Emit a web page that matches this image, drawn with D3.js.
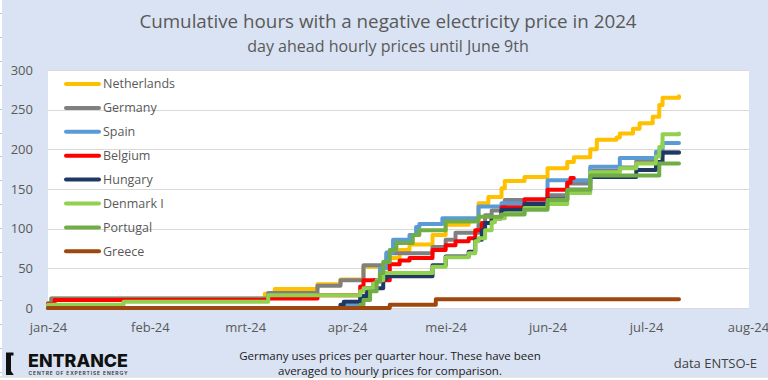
<!DOCTYPE html>
<html><head><meta charset="utf-8">
<script src="https://cdn.jsdelivr.net/npm/d3@7"></script>
<style>
body{margin:0;background:#fff;}
svg{display:block;font-family:"Open Sans",sans-serif;}
</style>
</head><body><svg id="c" width="768" height="380"></svg>
<script>
// ---------- data ----------
const seriesNames = ["Netherlands","Germany","Spain","Belgium","Hungary","Denmark I","Portugal","Greece"];
const seriesColors = ["#ffc000","#808080","#5b9bd5","#ff0000","#203864","#92d050","#70ad47","#9e480e"];

const nlDates = ["01-01","01-02","03-07","03-10","03-23","03-30","04-06","04-13","04-17","04-20","04-27","05-01","05-08","05-11","05-14","05-18","05-19","05-25","06-01","06-07","06-09","06-14","06-16","06-22","06-23","06-27","06-29","07-03","07-05","07-06","07-11"];
const nlValues = [6,12,18,24,30,36,52,63,73,80,92,105,111,132,140,151,160,165,176,184,190,200,212,215,220,226,233,241,256,265,267];

const deDates = ["01-01","01-02","03-08","03-23","03-30","04-06","04-13","04-27","05-01","05-04","05-11","05-13","05-15","05-19","06-01","06-07","06-14","06-23","06-28","07-04","07-06","07-11"];
const deValues = [6,12,19,28,35,54,69,77,86,95,105,117,123,136,142,157,173,177,185,193,196,196];

const esDates = ["01-01","03-30","04-05","04-07","04-09","04-11","04-13","04-15","04-20","04-22","04-23","04-30","05-11","05-18","06-01","06-14","06-23","07-04","07-06","07-11"];
const esValues = [0,3,10,22,35,50,70,86,92,102,106,113,128,132,161,178,189,197,208,208];

const beDates = ["01-01","01-03","03-08","03-23","04-05","04-06","04-14","04-17","04-20","04-27","05-01","05-04","05-08","05-10","05-12","05-15","05-18","05-25","06-01","06-07","06-08","06-09"];
const beValues = [5,10,12,16,27,35,55,60,63,73,79,84,88,98,107,113,127,137,149,158,164,164];

const huDates = ["01-01","03-30","03-31","04-05","04-07","04-12","04-13","04-27","05-01","05-08","05-10","05-12","05-13","05-15","05-18","05-25","06-01","06-07","06-14","06-28","07-04","07-06","07-11"];
const huValues = [0,4,8,15,25,37,40,54,65,71,86,98,107,113,124,131,137,149,165,174,184,196,196];

const dkDates = ["01-01","01-24","03-08","04-05","04-06","04-09","04-10","04-12","04-27","05-01","05-08","05-10","05-11","05-13","05-15","05-16","05-19","05-25","06-01","06-07","06-14","06-23","06-28","07-04","07-05","07-06","07-11"];
const dkValues = [4,8,16,21,25,31,35,44,52,64,69,84,88,98,108,113,119,126,131,145,171,176,182,191,203,219,220];

const ptDates = ["01-01","04-05","04-06","04-08","04-10","04-11","04-12","04-14","04-16","04-21","04-23","05-01","05-11","05-18","05-25","06-01","06-07","06-14","07-05","07-11"];
const ptValues = [0,4,10,21,33,44,58,73,82,92,98,109,115,118,124,136,149,167,182,182];

const grDates = ["01-01","04-14","04-28","07-11"];
const grValues = [0,4,11,11];

const yTicks = [0,50,100,150,200,250,300];
const xTickDates = ["2024-01-01","2024-02-01","2024-03-01","2024-04-01","2024-05-01","2024-06-01","2024-07-01","2024-08-01"];
const xTickLabels = ["jan-24","feb-24","mrt-24","apr-24","mei-24","jun-24","jul-24","aug-24"];

const titleText = "Cumulative hours with a negative electricity price in 2024";
const subtitleText = "day ahead hourly prices until June 9th";
const noteLines = ["Germany uses prices per quarter hour. These have been","averaged to hourly prices for comparison."];
const sourceText = "data ENTSO-E";

// ---------- build ----------
const parse = d3.timeParse("%Y-%m-%d");
const allDates = [nlDates,deDates,esDates,beDates,huDates,dkDates,ptDates,grDates];
const allValues = [nlValues,deValues,esValues,beValues,huValues,dkValues,ptValues,grValues];
const series = seriesNames.map((n,i)=>({
  name:n, color:seriesColors[i],
  points: allDates[i].map((d,j)=>({date:parse("2024-"+d), value:allValues[i][j]}))
}));

const svg = d3.select("#c");
const W = 768, H = 380;
const plot = {l:48, r:748, t:70, b:308};

// background
svg.append("rect").attr("x",0).attr("y",0).attr("width",W).attr("height",H).attr("fill","#ffffff");
svg.append("rect").attr("x",2).attr("y",0).attr("width",W-2).attr("height",376.5).attr("fill","#dae3f3");
svg.append("line").attr("x1",0).attr("x2",W).attr("y1",377).attr("y2",377).attr("stroke","#cfcfcf").attr("stroke-width",1);
d3.range(13, 377, 23.9).forEach(yy=>{
  svg.append("line").attr("x1",0).attr("x2",2).attr("y1",Math.round(yy)+0.5).attr("y2",Math.round(yy)+0.5).attr("stroke","#c8c8c8");
});

svg.append("rect").attr("x",plot.l).attr("y",plot.t).attr("width",plot.r-plot.l+1).attr("height",plot.b-plot.t+1).attr("fill","#ffffff");

const x = d3.scaleTime().domain([parse("2024-01-01"), parse("2024-08-01")]).range([plot.l, plot.r]);
const y = d3.scaleLinear().domain([0,300]).range([plot.b, plot.t]);

// gridlines
svg.append("g").selectAll("line").data(yTicks).join("line")
  .attr("x1",plot.l).attr("x2",plot.r+1)
  .attr("y1",d=>Math.round(y(d))+0.5).attr("y2",d=>Math.round(y(d))+0.5)
  .attr("stroke","#d9d9d9").attr("stroke-width",1);

// axes
const yAxis = svg.append("g").attr("transform",`translate(${plot.l},0)`)
  .call(d3.axisLeft(y).tickValues(yTicks).tickSize(0).tickPadding(15));
yAxis.select(".domain").remove();
yAxis.selectAll("text").attr("fill","#595959").style("font-size","13px").style("font-family","'Open Sans',sans-serif");

const xAxis = svg.append("g").attr("transform",`translate(0,${plot.b})`)
  .call(d3.axisBottom(x).tickValues(xTickDates.map(parse)).tickFormat((d,i)=>xTickLabels[i]).tickSize(0).tickPadding(15));
xAxis.select(".domain").remove();
xAxis.selectAll("text").attr("fill","#595959").style("font-size","13px").style("font-family","'Open Sans',sans-serif");

// lines
const line = d3.line().x(d=>x(d.date)).y(d=>y(d.value)).curve(d3.curveStepAfter);
svg.append("g").selectAll("path").data(series).join("path")
  .attr("d",d=>line(d.points))
  .attr("fill","none").attr("stroke",d=>d.color).attr("stroke-width",4)
  .attr("stroke-linejoin","round").attr("stroke-linecap","round");

// legend
const lg = svg.append("g");
series.forEach((s,i)=>{
  const yy = 84 + i*23.9;
  lg.append("line").attr("x1",66).attr("x2",99).attr("y1",yy).attr("y2",yy)
    .attr("stroke",s.color).attr("stroke-width",4).attr("stroke-linecap","round");
  lg.append("text").attr("x",103).attr("y",yy).attr("dy","0.35em")
    .attr("fill","#595959").style("font-size","12.5px").text(s.name);
});

// titles
svg.append("text").attr("x",388).attr("y",28).attr("text-anchor","middle")
  .attr("fill","#595959").style("font-size","18.8px").text(titleText);
svg.append("text").attr("x",388).attr("y",51.5).attr("text-anchor","middle")
  .attr("fill","#595959").style("font-size","16px").text(subtitleText);

// note
noteLines.forEach((t,i)=>{
  svg.append("text").attr("x",390).attr("y",360+i*15).attr("text-anchor","middle")
    .attr("fill","#1a1a1a").style("font-size","11.5px").text(t);
});
svg.append("text").attr("x",757).attr("y",368).attr("text-anchor","end")
  .attr("fill","#404040").style("font-size","13px").text(sourceText);

// logo
svg.append("path").attr("d","M6,352.5 L13.5,352.5 L13.5,355.5 L11,355.5 L11,371 L13.5,374.5 L13.5,375 L6,375 Z").attr("fill","#111111");
svg.append("text").attr("x",28).attr("y",366.5).attr("fill","#111111")
  .style("font-family","Inter, 'DejaVu Sans', sans-serif").style("font-weight","800").style("font-size","17.5px")
  .attr("textLength",100).attr("lengthAdjust","spacingAndGlyphs").text("ENTRANCE");
svg.append("text").attr("x",28.5).attr("y",374.5).attr("fill","#333333")
  .style("font-family","Inter, 'DejaVu Sans', sans-serif").style("font-weight","600").style("font-size","5px")
  .attr("textLength",99).attr("lengthAdjust","spacing").text("CENTRE OF EXPERTISE ENERGY");
</script></body></html>
